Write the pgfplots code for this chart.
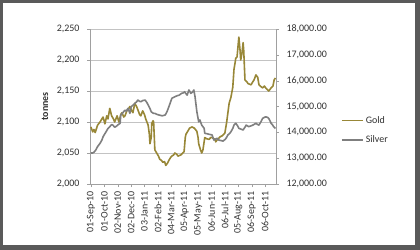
\documentclass[border=0pt]{standalone}
\usepackage{pgfplots}
\pgfplotsset{compat=1.18}
\usepackage{fontspec}
\setmainfont{Carlito}
\definecolor{goldc}{RGB}{152,135,55}
\definecolor{silverc}{RGB}{127,127,127}
\definecolor{gridc}{RGB}{195,195,195}
\definecolor{axc}{RGB}{160,160,160}
\definecolor{framec}{RGB}{90,90,90}
\definecolor{txt}{RGB}{50,50,50}
\begin{document}
\begin{tikzpicture}
\path[use as bounding box] (0,0) rectangle (420bp,250bp);
\fill[framec] (0,0) rectangle (420bp,250bp);
\fill[white] (3bp,5bp) rectangle (415bp,247bp);
\pgfplotsset{
  base/.style={
    scale only axis, width=186bp, height=155bp,
    at={(90bp,66bp)}, anchor=south west,
    xmin=-1.5, xmax=304,
    tick label style={font=\fontsize{10}{12}\selectfont, text=txt},
    /pgf/number format/assume math mode=true,
    tick style={axc},
    tick align=outside, major tick length=3bp,
  }
}
\begin{axis}[base,
  axis y line*=left, axis x line*=bottom,
  axis line style={axc},
  ymin=2000, ymax=2250, ytick={2000,2050,...,2250},
  yticklabel style={/pgf/number format/1000 sep={,}, xshift=-4bp},
  ymajorgrids, grid style={gridc, line width=0.8bp},
  xtick={0,22,...,286},
  xticklabels={01-Sep-10,01-Oct-10,02-Nov-10,02-Dec-10,03-Jan-11,02-Feb-11,04-Mar-11,05-Apr-11,05-May-11,06-Jun-11,06-Jul-11,05-Aug-11,06-Sep-11,06-Oct-11},
  xticklabel style={rotate=90, anchor=east, xshift=-1bp},
  ylabel={\textbf{tonnes}},
  ylabel style={at={(axis description cs:-0.242,0.5)}, anchor=center, font=\fontsize{10}{12}\selectfont, text=txt},
]
\addplot[goldc, line width=1.6bp, line join=round] coordinates {
(0,2092) (3,2084) (5,2088) (7,2083) (8,2086) (11,2095) (15,2100) (18,2105) (20,2108) (23,2097)
(26,2110) (28,2105) (31,2122) (34,2110) (37,2105) (39,2100) (43,2110) (46,2100) (49,2112) (51,2115)
(54,2108) (56,2110) (59,2118) (61,2120) (64,2125) (67,2118) (69,2115) (72,2130) (75,2125) (77,2120)
(80,2112) (82,2110) (85,2118) (88,2112) (90,2105) (92,2100) (94,2095) (96,2080) (97,2065) (99,2075)
(100,2098) (102,2102) (103,2100) (105,2055) (108,2050) (111,2045) (113,2040) (116,2038) (118,2035) (121,2036)
(123,2030) (126,2034) (128,2038) (131,2043) (133,2045) (136,2047) (138,2050) (141,2048) (143,2045) (148,2047)
(151,2050) (153,2052) (155,2075) (156,2080) (159,2085) (162,2090) (166,2092) (170,2090) (174,2085) (176,2075)
(177,2065) (180,2055) (182,2050) (184,2055) (187,2075) (190,2073) (194,2072) (197,2075) (199,2075) (202,2073)
(204,2072) (205,2068) (208,2072) (212,2076) (216,2078) (220,2082) (223,2100) (225,2115) (227,2130) (230,2140)
(233,2156) (235,2185) (238,2203) (240,2205) (243,2237) (245,2215) (246,2200) (248,2210) (250,2228) (251,2215)
(253,2168) (256,2165) (258,2162) (263,2160) (266,2165) (268,2168) (271,2176) (274,2172) (276,2160) (278,2158)
(282,2155) (285,2158) (287,2155) (290,2152) (292,2150) (296,2155) (299,2158) (301,2168) (303,2171)
};
\end{axis}
\begin{axis}[base,
  axis y line*=right, axis x line=none,
  axis line style={axc},
  ymin=12000, ymax=18000, ytick={12000,13000,...,18000},
  scaled y ticks=false,
  yticklabel style={/pgf/number format/fixed, /pgf/number format/fixed zerofill, /pgf/number format/precision=2, /pgf/number format/1000 sep={,}, xshift=4bp},
  legend style={at={(axis description cs:1,0.348)}, anchor=west, xshift=62bp,
    draw=none, fill=none, font=\fontsize{10}{12}\selectfont, text=txt, row sep=7bp},
  legend cell align=left,
  legend image code/.code={\draw[#1] (0bp,0bp) -- (21bp,0bp);},
]
\addlegendimage{goldc, line width=1.6bp}
\addlegendentry{Gold}
\addplot[silverc, line width=1.6bp, line join=round] coordinates {
(0,13200) (3,13200) (5,13230) (8,13316) (11,13450) (15,13575) (18,13700) (20,13830) (23,13950) (25,14025)
(28,14150) (31,14220) (34,14300) (36,14280) (39,14200) (41,14220) (45,14300) (48,14350) (49,14670) (52,14750)
(56,14860) (58,14820) (61,14930) (64,14735) (66,14990) (69,15050) (72,15120) (75,15180) (77,15250) (80,15200)
(82,15185) (85,15230) (89,15250) (92,15150) (94,15060) (97,14920) (99,14800) (101,14760) (103,14735) (105,14735)
(108,14700) (112,14670) (117,14640) (122,14670) (125,14800) (128,14990) (130,15120) (133,15320) (138,15380) (142,15420)
(145,15440) (149,15510) (152,15530) (154,15570) (156,15500) (158,15440) (161,15640) (164,15510) (167,15560) (169,15640)
(171,15380) (174,14800) (177,14410) (179,14480) (182,14280) (186,14155) (187,13960) (190,13950) (194,13925) (199,13900)
(202,13700) (207,13770) (210,13700) (214,13680) (217,13660) (220,13720) (222,13770) (225,13900) (228,13960) (230,14025)
(233,14150) (235,14280) (238,14350) (241,14250) (243,14155) (247,14120) (250,14090) (253,14200) (255,14280) (257,14250)
(259,14220) (263,14250) (266,14280) (269,14320) (271,14350) (274,14300) (276,14280) (279,14400) (282,14540) (285,14580)
(287,14600) (290,14580) (292,14540) (294,14450) (296,14350) (298,14300) (300,14220) (303,14150)
};
\addlegendentry{Silver}
\end{axis}
\end{tikzpicture}
\end{document}
